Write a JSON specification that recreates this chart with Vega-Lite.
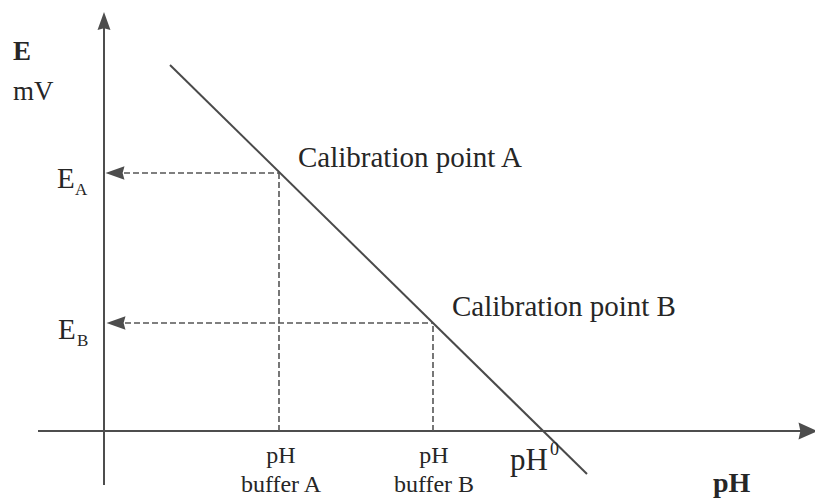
{
  "$schema": "https://vega.github.io/schema/vega-lite/v6.json",
  "width": 815,
  "height": 501,
  "autosize": "none",
  "padding": 0,
  "background": "#ffffff",
  "config": {"view": {"stroke": null}},
  "datasets": {
    "axes": [
      {"x": -66, "y": 0, "x2": 700, "y2": 0},
      {"x": 0, "y": -54, "x2": 0, "y2": 405}
    ],
    "guides": [
      {"x": 20, "y": 258, "x2": 175, "y2": 258},
      {"x": 175, "y": 0, "x2": 175, "y2": 258},
      {"x": 21, "y": 108, "x2": 329, "y2": 108},
      {"x": 329, "y": 0, "x2": 329, "y2": 108}
    ],
    "response": [
      {"x": 66, "y": 366},
      {"x": 483, "y": -43}
    ],
    "arrowsUp": [{"x": 0, "y": 410}],
    "arrowsRight": [{"x": 704, "y": 0}],
    "arrowsLeft": [
      {"x": 11, "y": 258},
      {"x": 12, "y": 108}
    ],
    "calibration": [
      {"label": "Calibration point A", "x": 194, "y": 264},
      {"label": "Calibration point B", "x": 348, "y": 115}
    ],
    "potential": [
      {"label": "E", "x": -47, "y": 243},
      {"label": "E", "x": -46, "y": 92}
    ],
    "subscripts": [
      {"label": "A", "x": -29, "y": 236},
      {"label": "B", "x": -27, "y": 85}
    ],
    "buffers": [
      {"label": "pH", "x": 177, "y": -32},
      {"label": "buffer A", "x": 177, "y": -61},
      {"label": "pH", "x": 330, "y": -32},
      {"label": "buffer B", "x": 330, "y": -61}
    ]
  },
  "layer": [
    {
      "data": {"name": "axes"},
      "mark": {"type": "rule", "color": "#4d4d4d", "strokeWidth": 2},
      "encoding": {
        "x": {"field": "x", "type": "quantitative", "scale": {"domain": [-104, 711], "nice": false, "zero": false}, "axis": null},
        "y": {"field": "y", "type": "quantitative", "scale": {"domain": [-70, 431], "nice": false, "zero": false}, "axis": null},
        "x2": {"field": "x2"},
        "y2": {"field": "y2"}
      }
    },
    {
      "data": {"name": "guides"},
      "mark": {"type": "rule", "color": "#555555", "strokeWidth": 1.6, "strokeDash": [6, 3]},
      "encoding": {
        "x": {"field": "x", "type": "quantitative"},
        "y": {"field": "y", "type": "quantitative"},
        "x2": {"field": "x2"},
        "y2": {"field": "y2"}
      }
    },
    {
      "data": {"name": "response"},
      "mark": {"type": "line", "color": "#4a4a4a", "strokeWidth": 2},
      "encoding": {
        "x": {"field": "x", "type": "quantitative"},
        "y": {"field": "y", "type": "quantitative"}
      }
    },
    {
      "data": {"name": "arrowsUp"},
      "mark": {"type": "point", "filled": true, "opacity": 1, "color": "#4d4d4d", "size": 324, "shape": "M0,-1L0.72,1L0,0.8L-0.72,1Z"},
      "encoding": {
        "x": {"field": "x", "type": "quantitative"},
        "y": {"field": "y", "type": "quantitative"}
      }
    },
    {
      "data": {"name": "arrowsRight"},
      "mark": {"type": "point", "filled": true, "opacity": 1, "color": "#4d4d4d", "size": 361, "shape": "M1,0L-1,-0.9L-0.8,0L-1,0.9Z"},
      "encoding": {
        "x": {"field": "x", "type": "quantitative"},
        "y": {"field": "y", "type": "quantitative"}
      }
    },
    {
      "data": {"name": "arrowsLeft"},
      "mark": {"type": "point", "filled": true, "opacity": 1, "color": "#4d4d4d", "size": 361, "shape": "M-1,0L1,-0.7L0.8,0L1,0.7Z"},
      "encoding": {
        "x": {"field": "x", "type": "quantitative"},
        "y": {"field": "y", "type": "quantitative"}
      }
    },
    {
      "data": {"name": "calibration"},
      "mark": {"type": "text", "font": "Liberation Serif", "fontSize": 29, "color": "#262626", "align": "left", "baseline": "alphabetic"},
      "encoding": {
        "x": {"field": "x", "type": "quantitative"},
        "y": {"field": "y", "type": "quantitative"},
        "text": {"field": "label"}
      }
    },
    {
      "data": {"values": [{"label": "E", "x": -91, "y": 371}]},
      "mark": {"type": "text", "font": "Liberation Serif", "fontSize": 27, "fontWeight": "bold", "color": "#262626", "align": "left", "baseline": "alphabetic"},
      "encoding": {
        "x": {"field": "x", "type": "quantitative"},
        "y": {"field": "y", "type": "quantitative"},
        "text": {"field": "label"}
      }
    },
    {
      "data": {"values": [{"label": "mV", "x": -91, "y": 331}]},
      "mark": {"type": "text", "font": "Liberation Serif", "fontSize": 27, "color": "#262626", "align": "left", "baseline": "alphabetic"},
      "encoding": {
        "x": {"field": "x", "type": "quantitative"},
        "y": {"field": "y", "type": "quantitative"},
        "text": {"field": "label"}
      }
    },
    {
      "data": {"name": "potential"},
      "mark": {"type": "text", "font": "Liberation Serif", "fontSize": 29, "color": "#262626", "align": "left", "baseline": "alphabetic"},
      "encoding": {
        "x": {"field": "x", "type": "quantitative"},
        "y": {"field": "y", "type": "quantitative"},
        "text": {"field": "label"}
      }
    },
    {
      "data": {"name": "subscripts"},
      "mark": {"type": "text", "font": "Liberation Serif", "fontSize": 17, "color": "#262626", "align": "left", "baseline": "alphabetic"},
      "encoding": {
        "x": {"field": "x", "type": "quantitative"},
        "y": {"field": "y", "type": "quantitative"},
        "text": {"field": "label"}
      }
    },
    {
      "data": {"name": "buffers"},
      "mark": {"type": "text", "font": "Liberation Serif", "fontSize": 24, "color": "#262626", "align": "center", "baseline": "alphabetic"},
      "encoding": {
        "x": {"field": "x", "type": "quantitative"},
        "y": {"field": "y", "type": "quantitative"},
        "text": {"field": "label"}
      }
    },
    {
      "data": {"values": [{"label": "pH", "x": 406, "y": -39}]},
      "mark": {"type": "text", "font": "Liberation Serif", "fontSize": 31, "color": "#262626", "align": "left", "baseline": "alphabetic"},
      "encoding": {
        "x": {"field": "x", "type": "quantitative"},
        "y": {"field": "y", "type": "quantitative"},
        "text": {"field": "label"}
      }
    },
    {
      "data": {"values": [{"label": "0", "x": 446, "y": -24}]},
      "mark": {"type": "text", "font": "Liberation Serif", "fontSize": 18, "color": "#262626", "align": "left", "baseline": "alphabetic"},
      "encoding": {
        "x": {"field": "x", "type": "quantitative"},
        "y": {"field": "y", "type": "quantitative"},
        "text": {"field": "label"}
      }
    },
    {
      "data": {"values": [{"label": "pH", "x": 609, "y": -61}]},
      "mark": {"type": "text", "font": "Liberation Serif", "fontSize": 28, "fontWeight": "bold", "color": "#262626", "align": "left", "baseline": "alphabetic"},
      "encoding": {
        "x": {"field": "x", "type": "quantitative"},
        "y": {"field": "y", "type": "quantitative"},
        "text": {"field": "label"}
      }
    }
  ]
}
